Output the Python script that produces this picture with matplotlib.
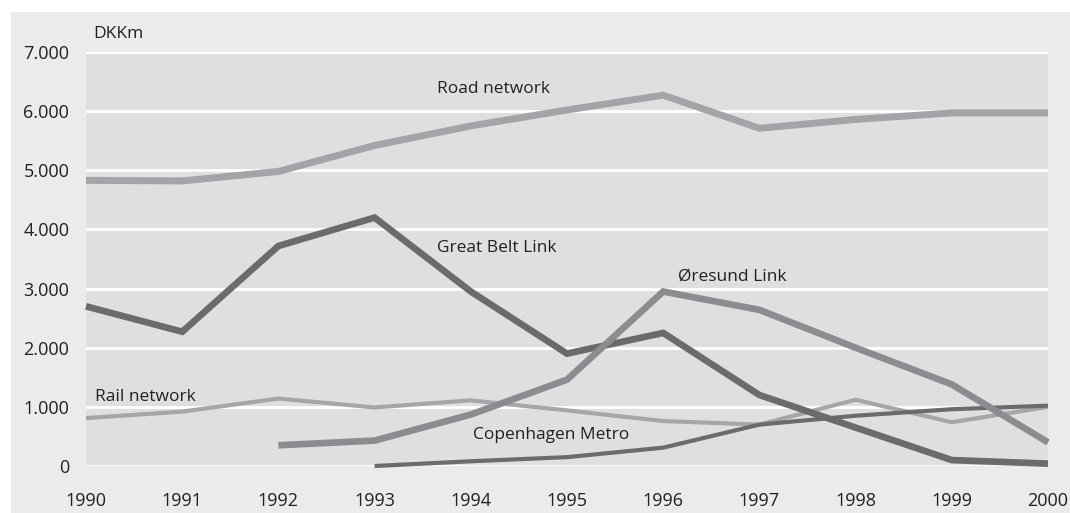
import matplotlib
matplotlib.use("Agg")
import matplotlib.pyplot as plt

years = [1990, 1991, 1992, 1993, 1994, 1995, 1996, 1997, 1998, 1999, 2000]
road = [4830, 4820, 4980, 5420, 5750, 6020, 6270, 5710, 5860, 5970, 5970]
great_belt = [2700, 2270, 3720, 4200, 2950, 1900, 2250, 1200, 650, 100, 40]
oresund_years = [1992, 1993, 1994, 1995, 1996, 1997, 1998, 1999, 2000]
oresund = [350, 430, 870, 1460, 2950, 2640, 2000, 1380, 400]
rail = [810, 920, 1140, 990, 1110, 940, 760, 700, 1120, 740, 1000]
metro_years = [1993, 1994, 1995, 1996, 1997, 1998, 1999, 2000]
metro = [0, 80, 150, 310, 700, 850, 960, 1020]
yticks = [0, 1000, 2000, 3000, 4000, 5000, 6000, 7000]
ytick_labels = ["0", "1.000", "2.000", "3.000", "4.000", "5.000", "6.000", "7.000"]

plt.rcParams['font.family'] = ['Open Sans', 'DejaVu Sans']

W, H = 1070, 513
fig = plt.figure(figsize=(W / 100, H / 100), dpi=100, facecolor='white')

# outer light panel
bg = fig.add_axes([11 / W, 0, 1 - 11 / W, (H - 12) / H], zorder=-1)
bg.set_facecolor('#ebebed')
bg.set_xticks([])
bg.set_yticks([])
for s in bg.spines.values():
    s.set_visible(False)

ax = fig.add_axes([86 / W, (H - 466) / H, 962 / W, 414 / H], zorder=1)
ax.set_facecolor('#dfdfe1')
ax.set_xlim(1990, 2000)
ax.set_ylim(0, 7000)
for s in ax.spines.values():
    s.set_visible(False)
ax.set_yticks(yticks)
ax.set_yticklabels(ytick_labels)
ax.set_xticks(years)
ax.set_xticklabels([str(y) for y in years])
ax.tick_params(length=0, labelsize=13, colors='#231f20')
ax.tick_params(axis='y', pad=12)
ax.tick_params(axis='x', pad=19)
ax.grid(axis='y', color='white', linewidth=2)
ax.set_axisbelow(True)

kw = dict(solid_capstyle='butt', solid_joinstyle='miter', clip_on=False)
ax.plot(years, rail, color='#a5a6a9', linewidth=3.0, zorder=2, **kw)
ax.plot(metro_years, metro, color='#6b6b6e', linewidth=3.0, zorder=3, **kw)
ax.plot(years, great_belt, color='#6b6b6e', linewidth=4.8, zorder=4, **kw)
ax.plot(oresund_years, oresund, color='#8b8c8f', linewidth=4.8, zorder=5, **kw)
ax.plot(years, road, color='#a3a4a7', linewidth=5.0, zorder=6, **kw)

tkw = dict(fontsize=12.5, color='#231f20', va='center', ha='left')
ax.text(1990.08, 7300, 'DKKm', clip_on=False, **tkw)
ax.text(1993.65, 6370, 'Road network', **tkw)
ax.text(1993.65, 3690, 'Great Belt Link', **tkw)
ax.text(1996.15, 3200, 'Øresund Link', **tkw)
ax.text(1990.09, 1170, 'Rail network', **tkw)
ax.text(1994.02, 525, 'Copenhagen Metro', **tkw)

fig.savefig('out.png', dpi=100, facecolor='white')
